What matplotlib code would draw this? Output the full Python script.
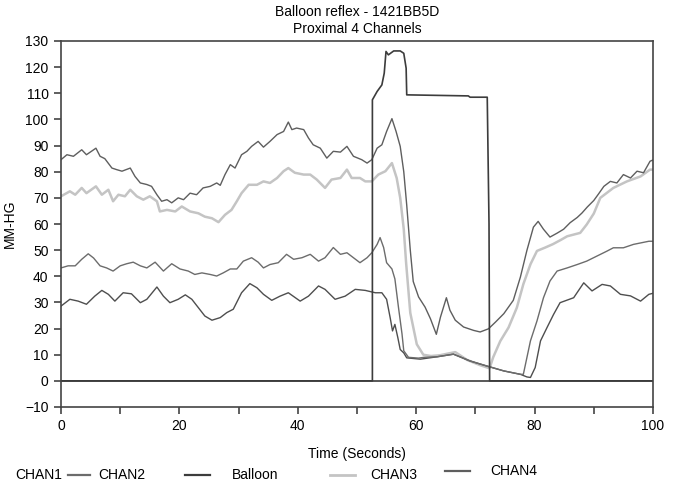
import matplotlib
matplotlib.use("Agg")
import matplotlib.pyplot as plt
from matplotlib.lines import Line2D

plt.rcParams['font.family'] = ['Liberation Sans', 'DejaVu Sans']

# CHAN4 (upper trace)
t4 = [0, 1, 2.1, 3.5, 4.3, 5.9, 6.6, 7.4, 8.6, 9.4, 10.3, 11.7, 12.5, 13.4, 14.5, 15.3, 16.2, 17.0,
      17.9, 18.7, 19.8, 20.7, 21.8, 22.9, 24.0, 25.2, 26.3, 26.9, 27.7, 28.6, 29.4, 30.5, 31.4, 32.2,
      33.3, 34.2, 35.3, 36.5, 37.6, 38.4, 39.0, 39.8, 41.0, 41.8, 42.6, 43.8, 44.9, 46.0, 47.2, 48.3,
      49.4, 50.8, 51.7, 52.5, 53.4, 54.2, 55.0, 55.9, 56.6, 57.3, 57.9, 58.4, 59.0, 59.5, 60.4, 61.5,
      62.4, 63.4, 64.1, 65.1, 65.7, 66.6, 68.0, 69.7, 70.8, 72.2, 73.4, 74.8, 76.4, 77.6, 78.7, 79.8,
      80.6, 81.5, 82.6, 83.8, 84.9, 86.0, 87.2, 88.0, 88.9, 90.0, 90.8, 91.7, 92.8, 93.9, 95.0, 96.2,
      97.3, 98.4, 99.5, 100]
v4 = [84.6, 86.5, 85.9, 88.4, 86.5, 89, 85.9, 85, 81.4, 80.8, 80.2, 81.4, 78.2, 75.7, 75.1, 74.4, 71.2, 68.7,
      69.3, 68.1, 70, 69.3, 71.8, 71.2, 73.8, 74.4, 75.7, 74.8, 78.9, 82.7, 81.4, 86.5, 87.8, 89.7,
      91.6, 89.4, 91.6, 94.2, 95.4, 99, 96.1, 96.7, 96.1, 92.9, 90.3, 89, 85.2, 87.8, 87.5, 89.7,
      85.9, 84.6, 83.3, 84.6, 89, 90.3, 95.4, 100.3, 95.4, 89.7, 80, 67.2, 50, 38, 32.1, 28.2,
      23.8, 17.8, 24.4, 31.8, 27, 23.2, 20.6, 19.3, 18.7, 19.9, 22.5, 25.7, 30.8, 39.7, 49.9, 58.8,
      61, 58, 55, 56.5, 58, 60.5, 62.5, 64.2, 66.5, 69, 71.5, 74.4, 76.3, 75.7, 78.9, 77.6,
      80.2, 79.6, 84, 84.5]

# CHAN3 (light trace)
t3 = [0, 1.5, 2.4, 3.5, 4.3, 5.9, 6.9, 8.0, 8.8, 9.7, 10.8, 11.7, 12.8, 13.9, 15.0, 16.2, 16.7, 17.9,
      19.3, 20.4, 21.8, 23.2, 24.3, 25.5, 26.6, 27.7, 28.8, 29.7, 30.5, 31.7, 33.1, 34.2, 35.3, 36.5,
      37.6, 38.4, 39.5, 41.0, 42.1, 43.2, 44.6, 45.7, 47.2, 48.3, 49.1, 50.5, 51.4, 52.5, 53.6, 54.8,
      55.9, 56.7, 57.3, 57.9, 58.3, 59.0, 60.1, 61.2, 62.5, 64, 65.5, 66.6, 68.6, 70.8, 72.4, 73.0,
      74.2, 75.6, 77.0, 78.1, 79.3, 80.4, 81.8, 83.1, 84.5, 85.5, 87.7, 88.8, 90.0, 91.1, 93.3, 95.6,
      97.9, 99.5, 100]
v3 = [70.6, 72.5, 71.2, 73.8, 71.8, 74.4, 71.2, 73.1, 68.7, 71.2, 70.6, 73.1, 70.6, 69.3, 70.6, 68.7, 64.8, 65.4,
      64.8, 66.7, 64.8, 64.1, 62.8, 62.2, 60.7, 63.5, 65.4, 68.7, 71.8, 75, 75, 76.3, 75.7, 77.6,
      80.2, 81.4, 79.6, 78.9, 78.9, 77, 73.8, 77, 77.6, 80.8, 77.6, 77.6, 76.3, 76.3, 78.9, 80.2,
      83.3, 77.6, 70, 58, 45, 26, 14, 10, 9.5, 9.8, 10.5, 11, 8, 6, 4.8, 9,
      15.2, 20.4, 28, 37, 44.6, 49.7, 51, 52.3, 54, 55.3, 56.6, 59.8, 64, 70, 73.8, 76.3,
      78.2, 80.8, 80.8]

# CHAN2 (trace around 45)
t2 = [0, 1.2, 2.4, 3.5, 4.6, 5.5, 6.6, 7.7, 8.8, 10.0, 11.1, 12.2, 13.4, 14.5, 15.9, 17.3, 18.7, 20.1,
      21.5, 22.6, 23.8, 25.2, 26.3, 27.4, 28.6, 29.7, 30.8, 32.2, 33.3, 34.2, 35.3, 36.7, 38.1, 39.3,
      40.7, 42.1, 43.5, 44.6, 46.0, 47.2, 48.3, 49.4, 50.5, 51.7, 52.5, 53.4, 53.9, 54.5, 55.0, 55.9,
      56.4, 57.0, 57.6, 57.9, 58.7, 60.4, 61.3, 63.5, 66.3, 69.1, 71.9, 74.8, 77.6, 78.1, 79.3, 80.4,
      81.5, 82.6, 83.8, 85.5, 87.2, 88.8, 90.5, 92.2, 93.3, 95.0, 96.7, 99.3, 100]
v2 = [43.2, 44, 44, 46.5, 48.6, 47, 44, 43.2, 42, 44, 44.8, 45.4, 44, 43.2, 45.4, 42, 44.8, 42.8,
      42, 40.7, 41.3, 40.7, 40.1, 41.3, 42.8, 42.8, 45.8, 47.1, 45.4, 43.2, 44.5, 45.2, 48.4, 46.5,
      47.1, 48.4, 45.8, 47.1, 51, 48.4, 49, 47.1, 45.2, 47.1, 49, 52.2, 54.8, 51, 45.2, 42.8,
      39, 28.2, 18, 11.5, 9, 8.7, 9, 9.2, 10.2, 7.6, 5.7, 3.8, 2.5, 2.5, 15.3, 22.9,
      31.8, 38.2, 42, 43.2, 44.5, 45.8, 47.7, 49.6, 50.9, 50.9, 52.2, 53.4, 53.4]

# CHAN1 (trace around 30)
t1 = [0, 1.5, 2.9, 4.3, 5.7, 6.9, 8.0, 9.1, 10.5, 11.9, 13.4, 14.5, 16.2, 17.3, 18.4, 19.8, 21.0, 22.1,
      23.2, 24.3, 25.5, 26.9, 28.0, 29.1, 30.5, 31.9, 33.1, 34.2, 35.6, 37.0, 38.4, 40.4, 41.8, 43.5,
      44.6, 46.3, 48.0, 49.7, 51.4, 53.1, 54.2, 55.0, 55.6, 56.0, 56.4, 56.9, 57.3, 57.9, 58.4, 60.7,
      63.5, 66.3, 69.1, 71.9, 74.8, 77.6, 78.7, 79.3, 80.1, 81.0, 82.1, 83.2, 84.3, 86.6, 88.3, 89.7,
      91.4, 92.8, 94.5, 96.2, 97.9, 99.3, 100]
v1 = [28.6, 31.2, 30.5, 29.3, 32.4, 34.6, 33.1, 30.5, 33.7, 33.3, 29.9, 31.2, 35.9, 32.4, 29.9, 31.2, 32.9, 31.2,
      28, 24.8, 23.2, 24.2, 26.1, 27.4, 33.7, 37.2, 35.6, 33.1, 30.8, 32.4, 33.7, 30.5, 32.4, 36.3,
      35, 31.2, 32.4, 35, 34.6, 33.7, 33.7, 31.2, 24.2, 19.1, 21.6, 16.5, 12, 10.7, 8.8, 8.3,
      9.2, 10.2, 7.6, 5.7, 3.8, 2.5, 1.5, 1.3, 5.1, 15.3, 20.4, 25.4, 29.9, 31.8, 37.5, 34.4,
      36.9, 36.3, 33.1, 32.5, 30.5, 33.1, 33.5]

# Balloon
tb = [0, 52.6, 52.6, 53.4, 54.2, 54.6, 54.9, 55.3, 56.2, 57.3, 57.9, 58.3, 58.4, 68.8, 69.1, 72.0, 72.3, 72.4, 100]
vb = [0, 0, 107.5, 110.7, 113.2, 117.7, 126, 124.7, 126.2, 126.2, 125.3, 119.6, 109.4, 109, 108.5, 108.5, 60, 0, 0]

col1, col2, colb, col3, col4 = '#4e4e4e', '#6c6c6c', '#3c3c3c', '#c4c4c4', '#5e5e5e'

fig = plt.figure(figsize=(6.85, 4.82), dpi=100)
ax = fig.add_axes([61 / 685, 1 - 407 / 482, 592 / 685, 366 / 482])

ax.axhline(0, color=colb, lw=1.2)
ax.plot(t3, v3, color=col3, lw=1.8)
ax.plot(t1, v1, color=col1, lw=1.0)
ax.plot(t2, v2, color=col2, lw=1.0)
ax.plot(t4, v4, color=col4, lw=1.0)
ax.plot(tb, vb, color=colb, lw=1.2)

ax.set_xlim(0, 100)
ax.set_ylim(-10, 130)
ax.set_xticks(range(0, 101, 20))
ax.set_xticks(range(0, 101, 10), minor=True)
ax.set_yticks(range(-10, 131, 10))
ax.tick_params(which='both', direction='out', length=5, width=1.2, color='#444444',
               labelsize=10, pad=4)
for s in ax.spines.values():
    s.set_color('#444444')
    s.set_linewidth(1.2)

ax.set_title('Balloon reflex - 1421BB5D\nProximal 4 Channels', fontsize=10, pad=6, linespacing=1.25)
ax.set_xlabel('Time (Seconds)', fontsize=10, labelpad=10)
ax.set_ylabel('MM-HG', fontsize=10, labelpad=6)

# legend row along the bottom
leg_labels = ['CHAN1', 'CHAN2', 'Balloon', 'CHAN3', 'CHAN4']
leg_colors = [None, col2, colb, col3, col4]
leg_text_x = [15, 98, 232, 370, 490]
leg_line_x = [None, (68, 90), (185, 210), (330, 355), (445, 470)]
leg_y = [475, 475, 475, 475, 471]
for lab, c, tx, lx, y in zip(leg_labels, leg_colors, leg_text_x, leg_line_x, leg_y):
    fy = 1 - y / 482
    fig.text(tx / 685, fy, lab, fontsize=10, va='center', ha='left')
    if lx is not None:
        lw = 2.0 if lab == 'CHAN3' else 1.6
        fig.add_artist(Line2D([lx[0] / 685, lx[1] / 685], [fy, fy], color=c, lw=lw,
                              transform=fig.transFigure))

fig.savefig('out.png', dpi=100)
